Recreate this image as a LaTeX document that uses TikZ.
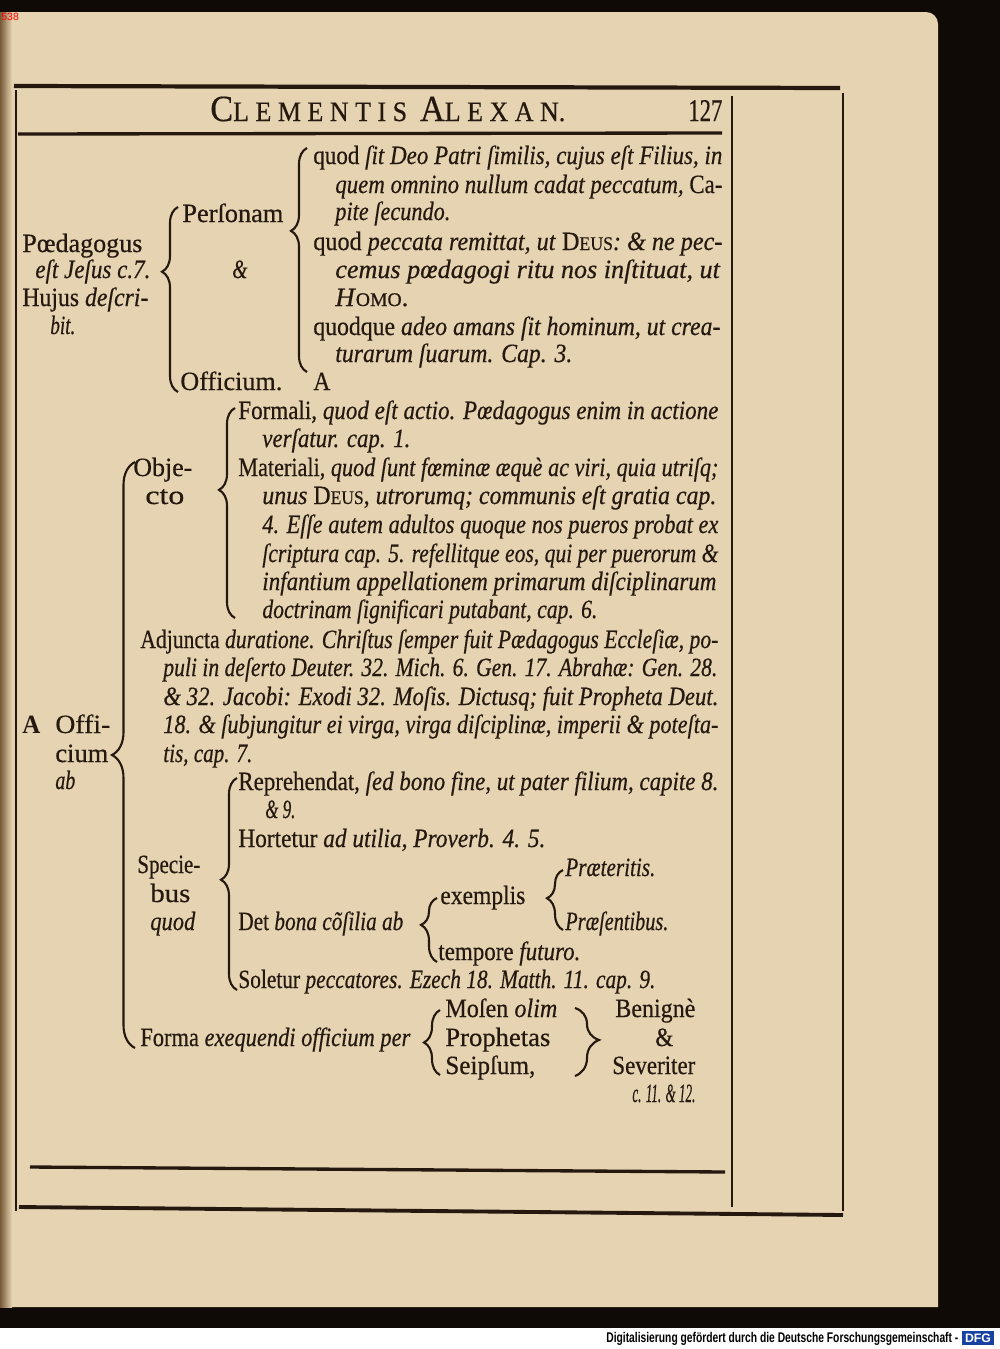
\documentclass[tikz,border=0pt]{standalone}
\usepackage{fontspec}
\setmainfont{Liberation Serif}[UprightFeatures={FakeBold=0.5}, ItalicFeatures={FakeBold=0.5}]
\newfontfamily\dfgfont{Liberation Sans}
\usepackage{graphicx}
\usetikzlibrary{decorations.pathreplacing}
\definecolor{ink}{RGB}{36,24,15}
\definecolor{paper}{RGB}{229,211,178}
\definecolor{gutter}{RGB}{120,90,55}
\definecolor{dfgblue}{RGB}{25,65,160}
\newlength{\pxu}\setlength{\pxu}{0.02cm}
% squeeze or stretch one printed line to its width in the scan
\newcommand{\fitw}[2]{\resizebox{#1\pxu}{\height}{#2}}
\newcommand{\sm}[1]{{\fontsize{11}{12}\selectfont #1}}

\begin{document}
\begin{tikzpicture}[x=0.02cm, y=-0.02cm, every node/.style={inner sep=0pt, anchor=base west, text=ink, font=\fontsize{15}{17}\selectfont}, brc/.style={draw=ink, line width=1.2pt, decorate, decoration={brace, amplitude=0.32cm}}, rule/.style={draw=ink, line width=1.5pt}]
	\useasboundingbox (0,0) rectangle (1000,1349);
	% scan background
	\fill[black!92!brown] (0,0) rectangle (1000,1328);
	\fill[white] (0,1328) rectangle (1000,1349);
	\fill[paper] (0,1307) -- (0,12) -- (926,12) to[out=0, in=90] (938,24) -- (938,1307) -- cycle;
	\shade[left color=gutter, right color=paper] (0,12) rectangle (12,1307);
	% frame rules
	\draw[rule, line width=2.4pt] (14,86) -- (840,88);
	\draw[rule, line width=1.6pt] (16,90) -- (16,1211);
	\draw[rule] (732,96) -- (732,1207);
	\draw[rule] (843,93) -- (843,1211);
	\draw[rule, line width=1.9pt] (18,134) -- (722,133);
	\draw[rule, line width=1.9pt] (30,1167) -- (725,1172);
	\draw[rule, line width=2.2pt] (19,1207) -- (843,1215);
	% running head
	\node (hd) at (210,121) {\fitw{355}{{\fontsize{21}{22}\selectfont C}{\fontsize{16}{17}\selectfont L E M E N T I S \ }{\fontsize{21}{22}\selectfont A}{\fontsize{16}{17}\selectfont L E X A N.}}};
	\node (pg) at (688,121) {\fitw{34}{\fontsize{18}{19}\selectfont 127}};
	% Paedagogus
	\foreach \nm/\x/\y/\w/\t in {ped1/22/252/120/{Pœdagogus}, ped2/35/278/115/{\textit{eſt Jeſus c.7.}}, ped3/22/306/126/{Hujus \textit{deſcri-}}, ped4/50/334/25/{\textit{bit.}}, pers/182/222/101/{Perſonam}, amp/232/278/15/{\textit{\&}}, offi/180/390/102/{Officium.}, offA/313/390/17/{A}}
		{\node (\nm) at (\x,\y) {\fitw{\w}{\t}};}
	\foreach \nm/\x/\y/\w/\t in {q1/313/164/409/{quod \textit{ſit Deo Patri ſimilis, cujus eſt Filius, in}}, q2/335/193/387/{\textit{quem omnino nullum cadat peccatum,} Ca-}, q3/335/220/115/{\textit{pite ſecundo.}}, q4/313/250/409/{quod \textit{peccata remittat, ut} D\sm{EUS}\textit{: \& ne pec-}}, q5/335/278/385/{\textit{cemus pœdagogi ritu nos inſtituat, ut}}, q6/335/306/73/{\textit{H}\sm{OMO}.}, q7/313/335/407/{quodque \textit{adeo amans ſit hominum, ut crea-}}, q8/335/362/237/{\textit{turarum ſuarum. Cap. 3.}}}
		{\node (\nm) at (\x,\y) {\fitw{\w}{\t}};}
	% Officium
	\foreach \nm/\x/\y/\w/\t in {obj1/133/476/59/{Obje-}, obj2/145/504/39/{cto}, f1/238/419/480/{Formali, \textit{quod eſt actio. Pœdagogus enim in actione}}, f2/262/447/148/{\textit{verſatur. cap. 1.}}, f3/238/476/480/{Materiali, \textit{quod ſunt fœminæ æquè ac viri, quia utriſq;}}, f4/262/504/454/{\textit{unus} D\sm{EUS}, \textit{utrorumq; communis eſt gratia cap.}}, f5/262/533/456/{\textit{4. Eſſe autem adultos quoque nos pueros probat ex}}, f6/262/562/456/{\textit{ſcriptura cap. 5. refellitque eos, qui per puerorum \&}}, f7/262/590/454/{\textit{infantium appellationem primarum diſciplinarum}}, f8/262/618/335/{\textit{doctrinam ſignificari putabant, cap. 6.}}}
		{\node (\nm) at (\x,\y) {\fitw{\w}{\t}};}
	\foreach \nm/\x/\y/\w/\t in {adj1/140/648/578/{Adjuncta \textit{duratione. Chriſtus ſemper fuit Pædagogus Eccleſiæ, po-}}, adj2/163/676/554/{\textit{puli in deſerto Deuter. 32. Mich. 6. Gen. 17. Abrahæ: Gen. 28.}}, adj3/163/705/555/{\textit{\& 32. Jacobi: Exodi 32. Moſis. Dictusq; fuit Propheta Deut.}}, adj4/163/733/555/{\textit{18. \& ſubjungitur ei virga, virga diſciplinæ, imperii \& poteſta-}}, adj5/163/762/89/{\textit{tis, cap. 7.}}, aoA/22/733/18/{\textbf{A}}, ao1/55/733/55/{Offi-}, ao2/55/762/53/{cium}, ao3/55/789/20/{\textit{ab}}}
		{\node (\nm) at (\x,\y) {\fitw{\w}{\t}};}
	\foreach \nm/\x/\y/\w/\t in {sp1/137/873/63/{Specie-}, sp2/150/902/40/{bus}, sp3/150/930/45/{\textit{quod}}, r1/238/790/480/{Reprehendat, \textit{ſed bono fine, ut pater filium, capite 8.}}, r2/265/818/30/{\textit{\& 9.}}, hort/238/847/307/{Hortetur \textit{ad utilia, Proverb. 4. 5.}}, pr1/565/876/90/{\textit{Præteritis.}}, ex/440/904/85/{exemplis}, det/238/930/165/{Det \textit{bona cõſilia ab}}, pr2/565/930/103/{\textit{Præſentibus.}}, temp/438/960/142/{tempore \textit{futuro.}}, sol/238/988/417/{Soletur \textit{peccatores. Ezech 18. Matth. 11. cap. 9.}}}
		{\node (\nm) at (\x,\y) {\fitw{\w}{\t}};}
	\foreach \nm/\x/\y/\w/\t in {forma/140/1046/270/{Forma \textit{exequendi officium per}}, mo1/445/1017/112/{Moſen \textit{olim}}, mo2/445/1046/105/{Prophetas}, mo3/445/1074/90/{Seipſum,}, ben1/615/1017/80/{Benignè}, ben2/655/1046/18/{\&}, ben3/612/1074/83/{Severiter}, cap/632/1102/63/{\textit{c. 11. \& 12.}}}
		{\node (\nm) at (\x,\y) {\fitw{\w}{\t}};}
	% braces
	\coordinate (b1t) at (307,148); \coordinate (b1b) at (307,372);
	\coordinate (b2t) at (178,207); \coordinate (b2b) at (178,392);
	\coordinate (b3t) at (235,408); \coordinate (b3b) at (235,618);
	\coordinate (b4t) at (135,462); \coordinate (b4b) at (135,1048);
	\coordinate (b5t) at (237,778); \coordinate (b5b) at (237,990);
	\coordinate (b6t) at (437,898); \coordinate (b6b) at (437,962);
	\coordinate (b7t) at (563,870); \coordinate (b7b) at (563,930);
	\coordinate (b8t) at (440,1010); \coordinate (b8b) at (440,1075);
	\coordinate (b9t) at (575,1008); \coordinate (b9b) at (575,1076);
	\draw[brc, decoration={aspect=0.63}] (b1b) -- (b1t);
	\draw[brc, decoration={aspect=0.65}] (b2b) -- (b2t);
	\draw[brc, decoration={aspect=0.61}] (b3b) -- (b3t);
	\draw[brc, decoration={amplitude=0.46cm, aspect=0.5}] (b4b) -- (b4t);
	\draw[brc, decoration={aspect=0.52}] (b5b) -- (b5t);
	\draw[brc, decoration={aspect=0.58}] (b6b) -- (b6t);
	\draw[brc, decoration={aspect=0.53}] (b7b) -- (b7t);
	\draw[brc, decoration={aspect=0.5}] (b8b) -- (b8t);
	\draw[brc, decoration={amplitude=0.48cm, aspect=0.47}] (b9t) -- (b9b);
	% scan marks
	\node[text=red, font=\dfgfont\fontsize{6}{7}\selectfont] (num) at (1,20) {538};
	\node[text=black, font=\dfgfont\bfseries\fontsize{8}{9}\selectfont] (dfg) at (606,1342) {\fitw{352}{Digitalisierung gefördert durch die Deutsche Forschungsgemeinschaft -}};
	\node[fill=dfgblue, text=white, anchor=center, inner sep=1.5pt, font=\dfgfont\bfseries\fontsize{7}{8}\selectfont] (logo) at (978,1338) {DFG};
\end{tikzpicture}
\end{document}
